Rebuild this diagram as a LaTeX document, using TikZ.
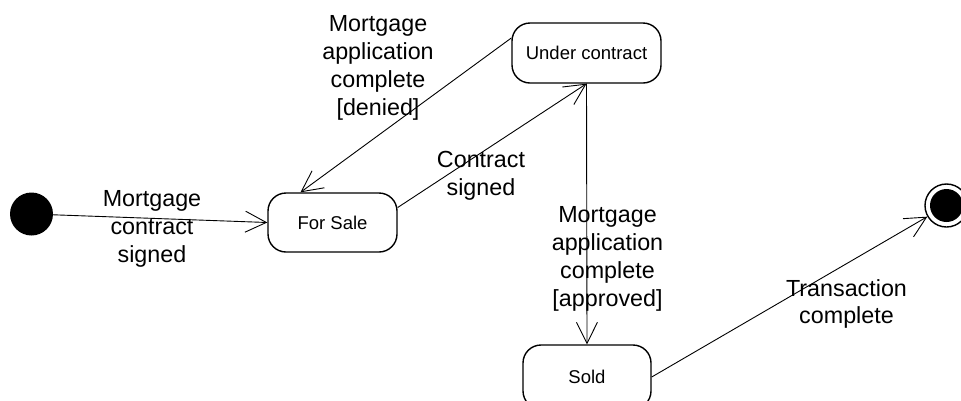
\documentclass[tikz,border=0pt]{standalone}
\usepackage{fontspec}
\setmainfont{Liberation Sans}
\usetikzlibrary{arrows.meta}
\begin{document}
\begin{tikzpicture}[x=1pt,y=-1pt,
  state/.style={draw,line width=1.4pt,rounded corners=18pt,minimum width=#1,minimum height=60pt,inner sep=0pt,
    font=\fontsize{18.5}{22}\selectfont},
  trans/.style={line width=0.9pt,-{Straight Barb[length=21pt,width=21pt,line width=0.9pt]}},
  lbl/.style={align=center,inner sep=0pt,font=\fontsize{23.3}{27.8}\selectfont},
]
\useasboundingbox (0,0) rectangle (961,400);
\clip (0,0) rectangle (961,400);

% states
\node[circle,fill=black,minimum size=43pt,inner sep=0pt] (init) at (31.5,214) {};
\node[state=129pt,minimum height=59pt] (forsale) at (332.5,222.5) {For Sale};
\node[state=149pt] (under) at (586.5,53) {Under contract};
\node[state=128pt,minimum height=64pt] (sold) at (587,377) {Sold};
\node[circle,draw,line width=1.4pt,minimum size=43pt,inner sep=0pt] (final) at (946.5,205.5) {};
\node[circle,fill=black,minimum size=33pt,inner sep=0pt] (finalin) at (final.center) {};

% transitions
\draw[trans] (init) -- (forsale.west);
\draw[trans] ([yshift=15pt]under.west) -- ([xshift=-32pt]forsale.north);
\draw[trans] ([yshift=15pt]forsale.east) -- (under.south);
\draw[trans] (under.south) -- (sold.north);
\draw[trans] (sold.east) -- (final);

% transition labels
\node[lbl] (l1) at (152,229) {Mortgage\\contract\\signed};
\node[lbl] (l2) at (378,68) {Mortgage\\application\\complete\\{[denied]}};
\node[lbl] (l3) at (481,176) {Contract\\signed};
\node[lbl] (l4) at (607.5,259) {Mortgage\\application\\complete\\{[approved]}};
\node[lbl] (l5) at (846.5,304) {Transaction\\complete};
\end{tikzpicture}
\end{document}
